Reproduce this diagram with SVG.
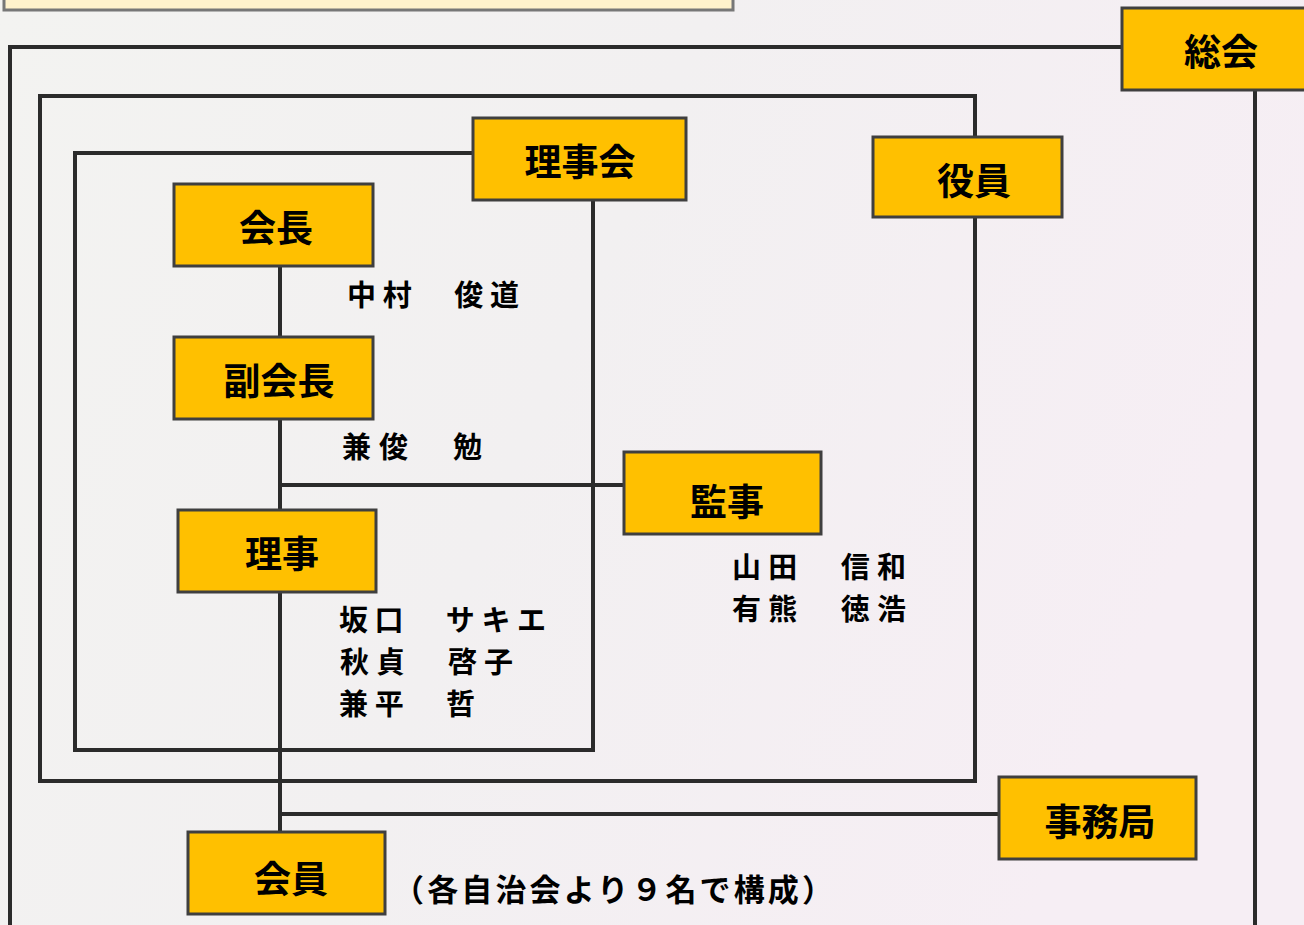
<svg xmlns="http://www.w3.org/2000/svg" width="1304" height="925" viewBox="0 0 1304 925">
<defs>
<linearGradient id="bg" x1="0" y1="0" x2="1" y2="0.3">
<stop offset="0" stop-color="#f3f3f1"/>
<stop offset="0.5" stop-color="#f2f0f1"/>
<stop offset="1" stop-color="#f6eef4"/>
</linearGradient>
<style>
.box{fill:#FFC000;stroke:#3f3f3f;stroke-width:3}
.lbl{font-family:"Noto Sans CJK JP","Noto Sans CJK SC",sans-serif;font-weight:bold;font-size:37px;fill:#000;text-anchor:middle;dominant-baseline:central}
.nm{font-family:"Noto Sans CJK JP","Noto Sans CJK SC",sans-serif;font-weight:bold;font-size:29px;fill:#000}
.ln{fill:none;stroke:#2b2b2b;stroke-width:4}
</style>
</defs>
<rect x="0" y="0" width="1304" height="925" fill="url(#bg)"/>
<rect x="4" y="-10" width="729" height="20" fill="#fff2cc" stroke="#777" stroke-width="3"/>
<g id="connectors">
<polyline class="ln" points="10,925 10,47 1122,47"/>
<line class="ln" x1="1255" y1="90" x2="1255" y2="925"/>
<polyline class="ln" points="975,137 975,96 40,96 40,781 975,781 975,217"/>
<polyline class="ln" points="473,153 75,153 75,750 593,750 593,200"/>
<line class="ln" x1="280" y1="266" x2="280" y2="337"/>
<line class="ln" x1="280" y1="419" x2="280" y2="510"/>
<line class="ln" x1="280" y1="592" x2="280" y2="832"/>
<line class="ln" x1="280" y1="485" x2="624" y2="485"/>
<line class="ln" x1="280" y1="814" x2="999" y2="814"/>
</g>
<g id="soukai"><rect class="box" x="1122" y="8" width="200" height="82"/><text class="lbl" x="1221" y="50">総会</text></g>
<g id="rijikai"><rect class="box" x="473" y="118" width="213" height="82"/><text class="lbl" x="580" y="160">理事会</text></g>
<g id="yakuin"><rect class="box" x="873" y="137" width="189" height="80"/><text class="lbl" x="974" y="179">役員</text></g>
<g id="kaicho"><rect class="box" x="174" y="184" width="199" height="82"/><text class="lbl" x="276" y="226">会長</text></g>
<g id="fukukaicho"><rect class="box" x="174" y="337" width="199" height="82"/><text class="lbl" x="279" y="379">副会長</text></g>
<g id="riji"><rect class="box" x="178" y="510" width="198" height="82"/><text class="lbl" x="282" y="552">理事</text></g>
<g id="kanji"><rect class="box" x="624" y="452" width="197" height="82"/><text class="lbl" x="727" y="500">監事</text></g>
<g id="jimukyoku"><rect class="box" x="999" y="777" width="197" height="82"/><text class="lbl" x="1100" y="820">事務局</text></g>
<g id="kaiin"><rect class="box" x="188" y="832" width="197" height="82"/><text class="lbl" x="291" y="877">会員</text></g>
<g id="names">
<text class="nm" x="347" y="306" textLength="172" lengthAdjust="spacing">中村　俊道</text>
<text class="nm" x="342" y="458" textLength="140" lengthAdjust="spacing">兼俊　勉</text>
<text class="nm" x="339" y="631" textLength="207" lengthAdjust="spacing">坂口　サキエ</text>
<text class="nm" x="340" y="673" textLength="173" lengthAdjust="spacing">秋貞　啓子</text>
<text class="nm" x="339" y="715" textLength="136" lengthAdjust="spacing">兼平　哲</text>
<text class="nm" x="732" y="578" textLength="174" lengthAdjust="spacing">山田　信和</text>
<text class="nm" x="732" y="620" textLength="174" lengthAdjust="spacing">有熊　徳浩</text>
<text class="nm" x="393" y="901" textLength="440" lengthAdjust="spacing" style="font-size:31px">（各自治会より９名で構成）</text>
</g>
</svg>
